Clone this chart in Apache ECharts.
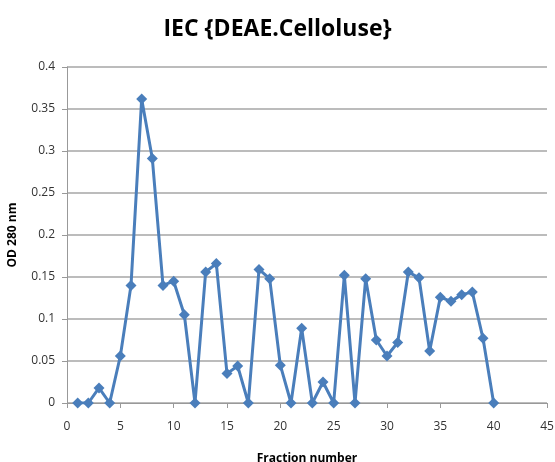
<!DOCTYPE html>
<html><head><meta charset="utf-8">
<script src="https://cdn.jsdelivr.net/npm/echarts@6/dist/echarts.min.js"></script>
<style>html,body{margin:0;padding:0;background:#fff}#c{width:555px;height:462px}</style>
</head><body><div id="c"></div>
<script>
const fractions = [1,2,3,4,5,6,7,8,9,10,11,12,13,14,15,16,17,18,19,20,21,22,23,24,25,26,27,28,29,30,31,32,33,34,35,36,37,38,39,40];
const od280 = [0,0,0.018,0,0.056,0.14,0.362,0.291,0.14,0.145,0.105,0,0.156,0.166,0.035,0.044,0,0.159,0.148,0.045,0,0.089,0,0.025,0,0.152,0,0.148,0.075,0.056,0.072,0.156,0.149,0.062,0.126,0.121,0.129,0.132,0.077,0];
const titleText = 'IEC {DEAE.Celloluse}';
const xName = 'Fraction number';
const yName = 'OD 280 nm';

const chart = echarts.init(document.getElementById('c'));
chart.setOption({
  animation:false,
  title:{text:titleText,left:'center',top:13,textStyle:{fontFamily:'Open Sans',fontSize:23,fontWeight:'bold',color:'#000'}},
  grid:{left:67,right:8,top:67,bottom:59,containLabel:false,outerBoundsMode:'none'},
  xAxis:{type:'value',min:0,max:45,interval:5,name:xName,nameLocation:'middle',nameGap:50,
    nameTextStyle:{fontFamily:'Open Sans',fontSize:12,fontWeight:'bold',color:'#000'},
    axisLine:{lineStyle:{color:'#999',width:1}},axisTick:{show:true,length:5,lineStyle:{color:'#999'}},
    axisLabel:{fontFamily:'Open Sans',fontSize:12,color:'#333',margin:18},splitLine:{show:false}},
  yAxis:{type:'value',min:0,max:0.4,interval:0.05,name:yName,nameLocation:'middle',nameGap:48,nameRotate:90,
    nameTextStyle:{fontFamily:'Open Sans',fontSize:12,fontWeight:'bold',color:'#000'},
    axisLine:{show:true,lineStyle:{color:'#999',width:1}},axisTick:{show:true,length:5,lineStyle:{color:'#999'}},
    axisLabel:{fontFamily:'Open Sans',fontSize:12,color:'#333',margin:12},
    splitLine:{show:true,lineStyle:{color:'#a6a6a6',width:1.5}}},
  series:[{type:'line',data:fractions.map((f,i)=>[f,od280[i]]),symbol:'diamond',symbolSize:11,
    lineStyle:{color:'#4a7ebb',width:3},itemStyle:{color:'#4a7ebb'}}]
});
</script></body></html>
